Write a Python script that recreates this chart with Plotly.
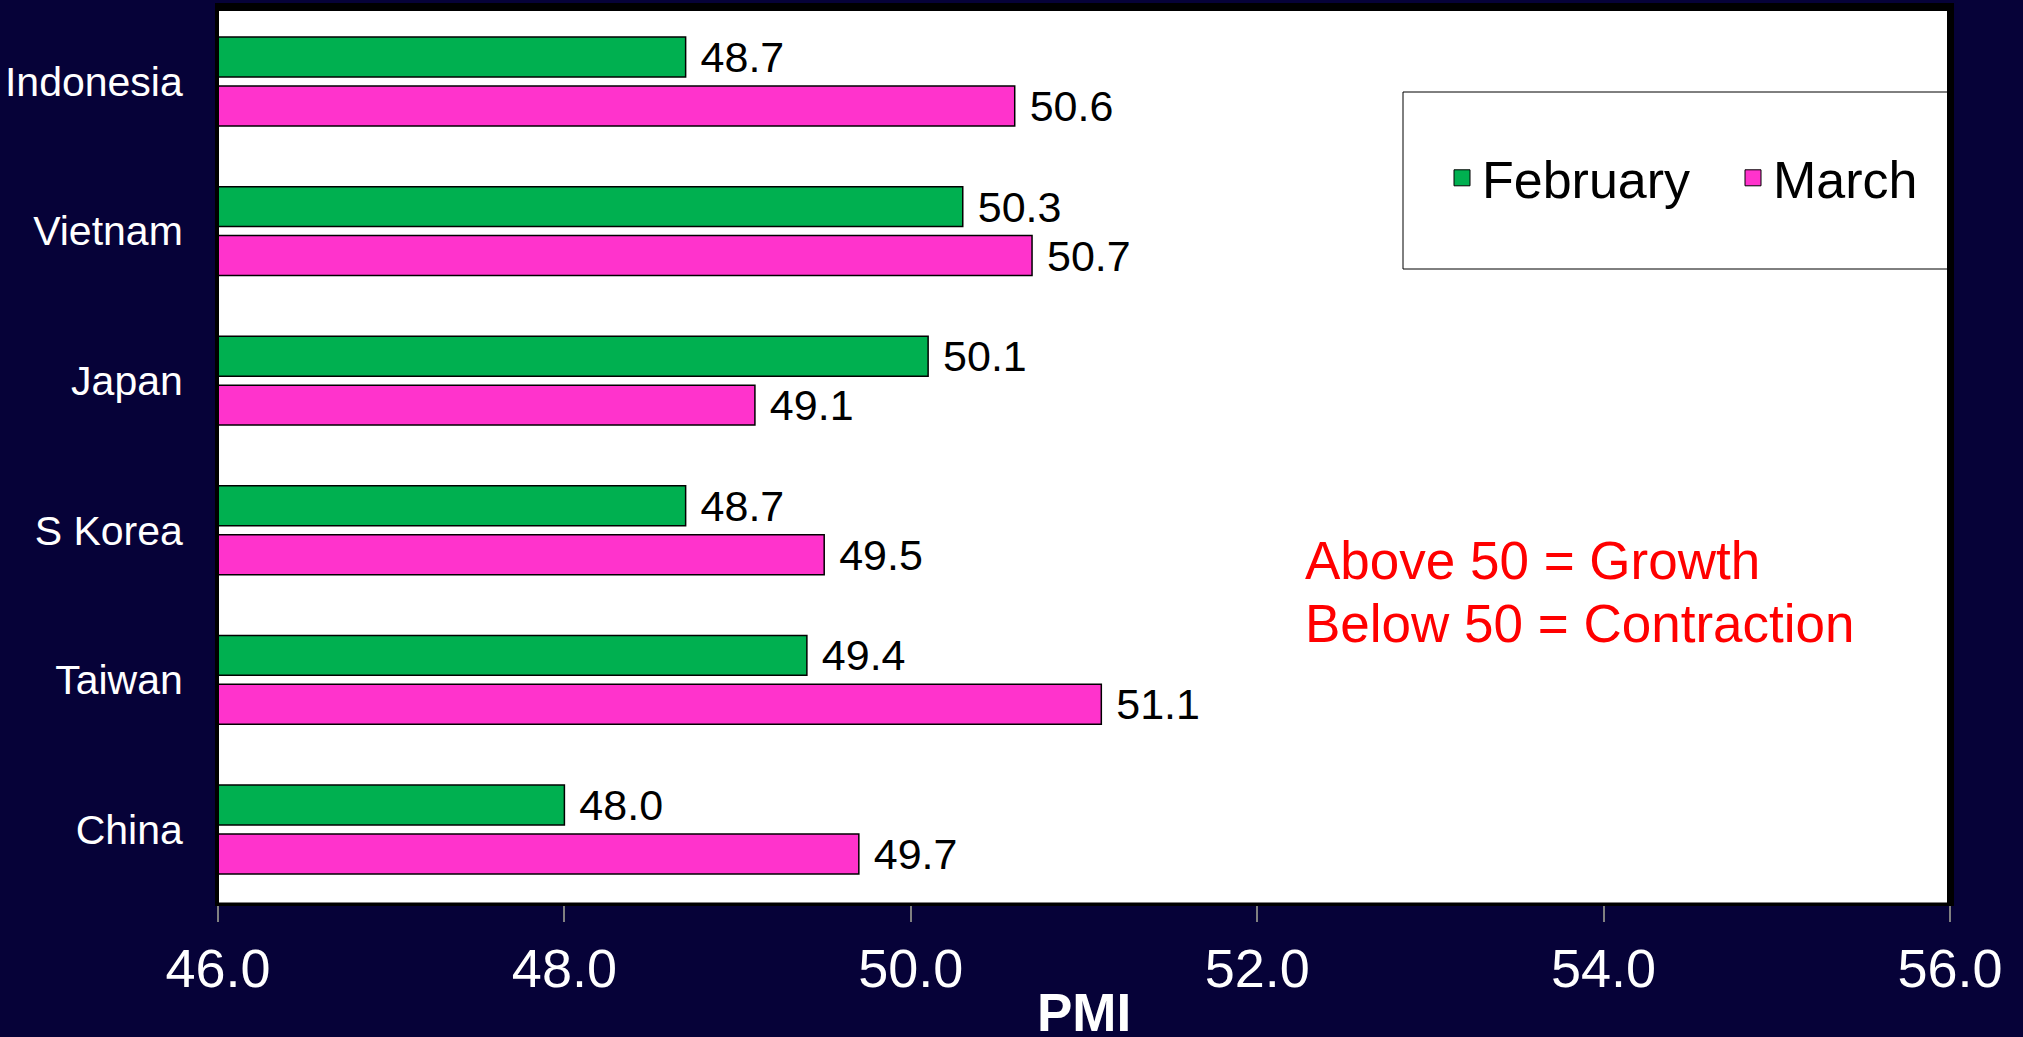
import plotly.graph_objects as go

countries = ["Indonesia", "Vietnam", "Japan", "S Korea", "Taiwan", "China"]
february = [48.7, 50.3, 50.1, 48.7, 49.4, 48.0]
march = [50.6, 50.7, 49.1, 49.5, 51.1, 49.7]
series_names = ["February", "March"]
x_ticks = [46, 48, 50, 52, 54, 56]
note_lines = ["Above 50 = Growth", "Below 50 = Contraction"]
x_title = "PMI"

GREEN = "#00B050"
MAGENTA = "#FF33CC"
BG = "#060238"
FONT = "Arial, 'Liberation Sans', sans-serif"

W, H = 2023, 1037
L, R, T, B = 218, 73, 11, 135
PW, PH = W - L - R, H - T - B


def px(x):
    return (x - L) / PW


def py(y):
    return (H - B - y) / PH


fig = go.Figure()
for name, vals, col in [(series_names[0], february, GREEN), (series_names[1], march, MAGENTA)]:
    fig.add_trace(go.Bar(
        y=countries, x=vals, orientation="h", name=name,
        marker=dict(color=col, line=dict(color="#000000", width=1.5)),
        text=vals, texttemplate="\u00a0%{x:.1f}", textposition="outside",
        constraintext="none", cliponaxis=False,
        textfont=dict(family=FONT, size=43, color="#000000"),
        showlegend=False,
    ))
    fig.add_trace(go.Scatter(
        x=[None], y=[None], mode="markers", name=name,
        marker=dict(symbol="square", size=16, color=col, line=dict(color="#000000", width=1)),
        showlegend=True,
    ))

shapes = []
# legend box
shapes.append(dict(type="rect", xref="paper", yref="paper",
                   x0=px(1403), x1=px(1948), y0=py(269), y1=py(92),
                   fillcolor="#FFFFFF", line=dict(color="#000000", width=1), layer="above"))
# black frame strips
for (x0, x1, y0, y1) in [(215, 1954, 3, 11), (1947, 1954, 3, 906), (215, 219, 3, 906), (215, 1954, 903, 906)]:
    shapes.append(dict(type="rect", xref="paper", yref="paper",
                       x0=px(x0), x1=px(x1), y0=py(y1), y1=py(y0),
                       fillcolor="#000000", line=dict(width=0), layer="above"))

annotations = []
for line, ypix in zip(note_lines, [560, 623]):
    annotations.append(dict(
        xref="paper", yref="paper", x=px(1303), y=py(ypix), xanchor="left", yanchor="middle",
        text=line, align="left", showarrow=False,
        font=dict(family=FONT, size=53, color="#FF0000"),
    ))
# x-axis title
annotations.append(dict(
    xref="paper", yref="paper", x=0.5, y=py(1012), xanchor="center", yanchor="middle",
    text="<b>" + x_title + "</b>", showarrow=False,
    font=dict(family=FONT, size=53, color="#FFFFFF"),
))

fig.update_layout(
    width=W, height=H,
    margin=dict(l=L, r=R, t=T, b=B, autoexpand=False),
    paper_bgcolor=BG, plot_bgcolor="#FFFFFF",
    barmode="group", bargap=0.346, bargroupgap=0.1835,
    font=dict(family=FONT, color="#FFFFFF"),
    shapes=shapes,
    legend=dict(orientation="h", x=px(1733), y=py(178), xanchor="center", yanchor="middle",
                bgcolor="rgba(0,0,0,0)", borderwidth=0,
                font=dict(family=FONT, size=52, color="#000000"),
                entrywidth=246, tracegroupgap=0),
    annotations=annotations,
)
fig.update_xaxes(
    range=[46, 56], tickvals=x_ticks, tickformat=".1f", automargin=False,
    showgrid=False, zeroline=False,
    showline=True, linecolor="#808080", linewidth=3,
    ticks="outside", ticklen=17, tickwidth=2, tickcolor="#808080",
    tickfont=dict(family=FONT, size=54, color="#FFFFFF"), ticklabelstandoff=0,
)
fig.update_yaxes(
    categoryorder="array", categoryarray=countries, automargin=False,
    range=[5.485, -0.471],
    showgrid=False, zeroline=False,
    showline=True, linecolor="#808080", linewidth=3,
    ticks="", tickfont=dict(family=FONT, size=41, color="#FFFFFF"), ticklabelstandoff=24,
)

fig.write_html(
    "out.html",
    config={"displayModeBar": False},
    post_script="document.body.style.margin='0';document.body.style.background='" + BG + "';document.body.style.overflow='hidden';",
)
